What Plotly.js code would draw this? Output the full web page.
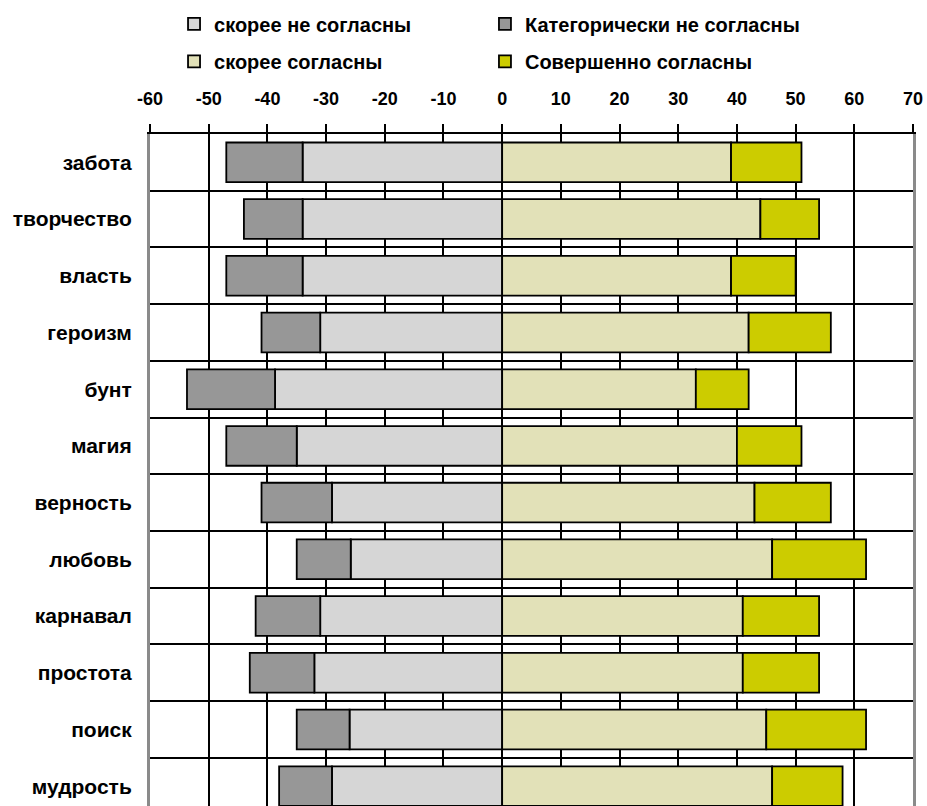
<!DOCTYPE html>
<html>
<head>
<meta charset="utf-8">
<script src="https://cdn.plot.ly/plotly-3.0.1.min.js"></script>
<style>html,body{margin:0;padding:0;background:#fff;}#chart{width:927px;height:806px;}</style>
</head>
<body>
<div id="chart"></div>
<script>
const categories = ["забота","творчество","власть","героизм","бунт","магия","верность","любовь","карнавал","простота","поиск","мудрость"];
const ratherDisagree = [-34, -34, -34, -31, -38.7, -35, -29, -25.8, -31, -32, -26, -29];
const stronglyDisagree = [-13, -10, -13, -10, -15, -12, -12, -9.2, -11, -11, -9, -9];
const ratherAgree = [39, 44, 39, 42, 33, 40, 43, 46, 41, 41, 45, 46];
const fullyAgree = [12, 10, 11, 14, 9, 11, 13, 16, 13, 13, 17, 12];
const seriesNames = ["скорее не согласны","Категорически не согласны","скорее согласны","Совершенно согласны"];
const xTicks = [-60,-50,-40,-30,-20,-10,0,10,20,30,40,50,60,70];

const FONT = "Liberation Sans, Arial, sans-serif";
const line = {color:"#000", width:1.8};
const traces = [
  {type:"bar", orientation:"h", y:categories, x:ratherDisagree, name:seriesNames[0],
   marker:{color:"#d6d6d6", line:line}, legend:"legend"},
  {type:"bar", orientation:"h", y:categories, x:stronglyDisagree, name:seriesNames[1],
   marker:{color:"#979797", line:line}, legend:"legend2"},
  {type:"bar", orientation:"h", y:categories, x:ratherAgree, name:seriesNames[2],
   marker:{color:"#e2e1b8", line:line}, legend:"legend3"},
  {type:"bar", orientation:"h", y:categories, x:fullyAgree, name:seriesNames[3],
   marker:{color:"#cccc00", line:line}, legend:"legend4"}
];
const legFont = {family:FONT, size:20, weight:700, color:"#000"};
function leg(x, y) {
  return {orientation:"h", x:x, xanchor:"left", y:y, yanchor:"middle",
    font:legFont, bgcolor:"rgba(0,0,0,0)", borderwidth:0};
}
const col1 = 0.0315, col2 = 0.439, row1 = 1.164, row2 = 1.108;
const layout = {
  width:927, height:806,
  margin:{l:150, r:14, t:134, b:0, pad:0},
  paper_bgcolor:"#fff", plot_bgcolor:"#fff",
  barmode:"relative", bargap:0.3,
  font:{family:FONT, size:18, weight:700, color:"#000"},
  xaxis:{side:"top", range:[-60,70], tickvals:xTicks, ticktext:xTicks.map(String),
    showgrid:true, gridcolor:"#000", gridwidth:2, zeroline:false,
    showline:true, linecolor:"#000", linewidth:2,
    ticks:"outside", ticklen:8, tickwidth:2, tickcolor:"#000",
    tickfont:{family:FONT, size:18, weight:700, color:"#000"}, ticklabelstandoff:12, fixedrange:true},
  yaxis:{type:"category", range:[11.35,-0.5], tickson:"boundaries",
    showgrid:true, gridcolor:"#000", gridwidth:2, zeroline:false,
    showline:true, mirror:true, linecolor:"#8a8a8a", linewidth:3,
    ticks:"", ticklabelstandoff:11,
    tickfont:{family:FONT, size:21, weight:700, color:"#000"}, fixedrange:true},
  showlegend:true,
  legend:leg(col1, row1),
  legend2:leg(col2, row1),
  legend3:leg(col1, row2),
  legend4:leg(col2, row2)
};
Plotly.newPlot("chart", traces, layout, {displayModeBar:false, staticPlot:true});
</script>
</body>
</html>
